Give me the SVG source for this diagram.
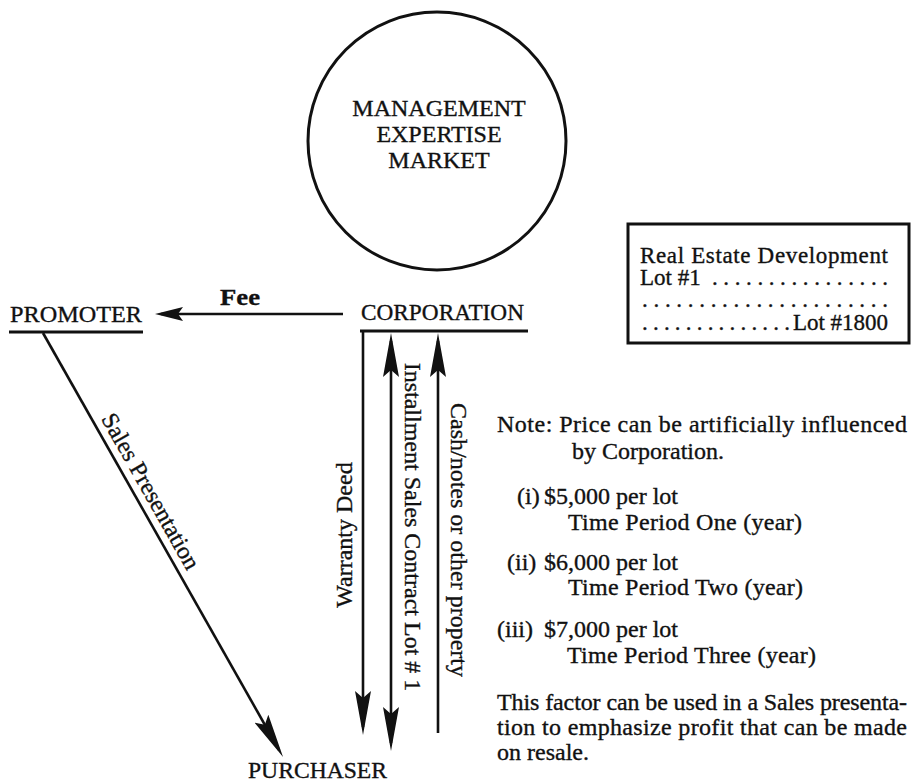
<svg xmlns="http://www.w3.org/2000/svg" width="913" height="784" viewBox="0 0 913 784">
  <style>
    text { font-family: "Liberation Serif", "Times New Roman", serif; font-size: 24px; fill: #111; stroke: #111; stroke-width: 0.35; }
    .ln { stroke: #111; stroke-width: 2.6; fill: none; }
    .ul { stroke: #111; stroke-width: 3; fill: none; }
    .mid { text-anchor: middle; }
    .bx { font-size: 23px; }
  </style>
  <defs>
    <marker id="arrowLong" markerUnits="userSpaceOnUse" viewBox="0 0 44 16" refX="36" refY="8" markerWidth="44" markerHeight="16" orient="auto-start-reverse">
      <path d="M0,0 L44,8 L0,16 L7,8 Z" fill="#111"/>
    </marker>
    <marker id="arrowShort" markerUnits="userSpaceOnUse" viewBox="0 0 28 14" refX="22" refY="7" markerWidth="28" markerHeight="14" orient="auto">
      <path d="M0,0 L28,7 L0,14 L5,7 Z" fill="#111"/>
    </marker>
  </defs>
  <rect width="913" height="784" fill="#fff"/>

  <g id="node-market">
    <circle cx="437" cy="141" r="129" fill="none" stroke="#111" stroke-width="3"/>
    <text class="mid" x="439" y="116">MANAGEMENT</text>
    <text class="mid" x="439" y="142">EXPERTISE</text>
    <text class="mid" x="439" y="168">MARKET</text>
  </g>

  <g id="node-promoter">
    <text x="10" y="322" textLength="132" lengthAdjust="spacingAndGlyphs">PROMOTER</text>
    <line class="ul" x1="9" y1="332" x2="143" y2="332"/>
  </g>

  <g id="node-corporation">
    <text x="361" y="320" textLength="163" lengthAdjust="spacingAndGlyphs">CORPORATION</text>
    <line class="ul" x1="360" y1="331" x2="528" y2="331"/>
  </g>

  <g id="node-purchaser">
    <text x="248" y="778" textLength="139" lengthAdjust="spacingAndGlyphs">PURCHASER</text>
  </g>

  <g id="node-lots">
    <rect x="628" y="224" width="281" height="119" fill="none" stroke="#111" stroke-width="3"/>
    <text class="bx" x="640" y="263" textLength="248" lengthAdjust="spacing">Real Estate Development</text>
    <text class="bx" x="640" y="285">Lot #1</text>
    <text class="bx" x="712" y="285" textLength="176" lengthAdjust="spacing">. . . . . . . . . . . . . . . .</text>
    <text class="bx" x="642" y="307" textLength="246" lengthAdjust="spacing">. . . . . . . . . . . . . . . . . . . . . .</text>
    <text class="bx" x="642" y="330" textLength="148" lengthAdjust="spacing">. . . . . . . . . . . . . .</text>
    <text class="bx" x="793" y="330" textLength="95" lengthAdjust="spacing">Lot #1800</text>
  </g>

  <g id="node-note">
    <text x="497" y="432" textLength="410" lengthAdjust="spacing">Note: Price can be artificially influenced</text>
    <text x="572" y="459">by Corporation.</text>
    <text x="517" y="504">(i)</text>
    <text x="544" y="504">$5,000 per lot</text>
    <text x="568" y="530" textLength="234" lengthAdjust="spacing">Time Period One (year)</text>
    <text x="507" y="570">(ii)</text>
    <text x="544" y="570">$6,000 per lot</text>
    <text x="568" y="595" textLength="235" lengthAdjust="spacing">Time Period Two (year)</text>
    <text x="497" y="637">(iii)</text>
    <text x="544" y="637">$7,000 per lot</text>
    <text x="567" y="663" textLength="249" lengthAdjust="spacing">Time Period Three (year)</text>
    <text x="497" y="710" textLength="410" lengthAdjust="spacing">This factor can be used in a Sales presenta-</text>
    <text x="497" y="735" textLength="410" lengthAdjust="spacing">tion to emphasize profit that can be made</text>
    <text x="497" y="760">on resale.</text>
  </g>

  <g id="connectors">
    <line class="ln" x1="343" y1="314" x2="161" y2="314" marker-end="url(#arrowShort)"/>
    <text class="mid" x="240" y="305" textLength="40" lengthAdjust="spacingAndGlyphs" font-weight="bold">Fee</text>

    <line class="ln" x1="43" y1="333" x2="279.1" y2="750" marker-end="url(#arrowLong)"/>
    <text class="mid" transform="translate(137,499) rotate(60.5)" x="0" y="-8">Sales Presentation</text>

    <line class="ln" x1="363" y1="330" x2="363" y2="727" marker-end="url(#arrowLong)"/>
    <text class="mid" transform="translate(352,535) rotate(-90)" x="0" y="0">Warranty Deed</text>

    <line class="ln" x1="391" y1="341" x2="391" y2="743" marker-start="url(#arrowLong)" marker-end="url(#arrowLong)"/>
    <text class="mid" transform="translate(405,527) rotate(90)" x="0" y="0">Installment Sales Contract Lot # 1</text>

    <line class="ln" x1="438" y1="733" x2="438" y2="341" marker-end="url(#arrowLong)"/>
    <text class="mid" transform="translate(451,540) rotate(90)" x="0" y="0">Cash/notes or other property</text>
  </g>
</svg>
